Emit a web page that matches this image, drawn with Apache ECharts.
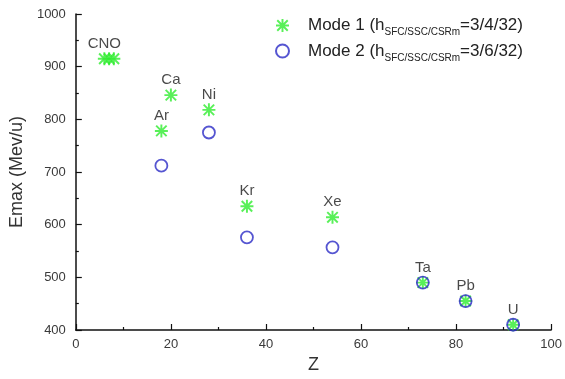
<!DOCTYPE html>
<html>
<head>
<meta charset="utf-8">
<script src="https://cdn.jsdelivr.net/npm/echarts@6/dist/echarts.min.js"></script>
<style>
  html, body { margin: 0; padding: 0; background: #fff; }
  #main { width: 565px; height: 379px; }
</style>
</head>
<body>
<div id="main"></div>
<script>
// Mode 1 (asterisks)
var zMode1 = [6, 7, 8, 18, 20, 28, 36, 54, 73, 82, 92];
var eMode1 = [915, 915, 915, 778, 846, 818, 635, 614, 490, 455, 410];
var ionNames = ['CNO', '', '', 'Ar', 'Ca', 'Ni', 'Kr', 'Xe', 'Ta', 'Pb', 'U'];
// Mode 2 (circles)
var zMode2 = [18, 28, 36, 54, 73, 82, 92];
var eMode2 = [712, 775, 576, 557, 490, 455, 410];

var xTicks = [0, 20, 40, 60, 80, 100];
var yTicks = [400, 500, 600, 700, 800, 900, 1000];

// asterisk made of four bars
var star = 'path://M0 8.5L20 8.5L20 11.5L0 11.5Z M8.5 0L11.5 0L11.5 20L8.5 20Z ' +
  'M0.9 3L3 0.9L19.1 17L17 19.1Z M17 0.9L19.1 3L3 19.1L0.9 17Z';

var green = '#30ec30';
var blue = '#2a2ac6';
var font = 'Liberation Sans';

function pairs(xs, ys) {
  return xs.map(function (x, i) { return [x, ys[i]]; });
}

var d1 = pairs(zMode1, eMode1).map(function (p, i) {
  return { value: p, label: { show: ionNames[i] !== '', formatter: ionNames[i] } };
});

var legendRich = {
  g: { width: 14 },
  a: { fontSize: 17, fontFamily: font, color: '#222', lineHeight: 24 },
  s: { fontSize: 10, fontFamily: font, color: '#222', lineHeight: 10, verticalAlign: 'bottom' }
};

var chart = echarts.init(document.getElementById('main'));
chart.setOption({
  animation: false,
  backgroundColor: '#fff',
  grid: { left: 72, right: 12, top: 14, bottom: 42 },
  legend: {
    orient: 'vertical',
    left: 275,
    top: 17,
    padding: 0,
    itemGap: 5,
    itemWidth: 13,
    itemHeight: 13,
    data: ['Mode 1', 'Mode 2'],
    formatter: function (name) {
      var v = name === 'Mode 1' ? '3/4/32' : '3/6/32';
      return '{g|}{a|' + name + ' (h}{s|SFC/SSC/CSRm}{a|=' + v + ')}';
    },
    textStyle: { rich: legendRich }
  },
  xAxis: {
    type: 'value',
    min: xTicks[0],
    max: xTicks[xTicks.length - 1],
    interval: 20,
    name: 'Z',
    nameLocation: 'middle',
    nameGap: 26,
    nameTextStyle: { fontSize: 18, fontFamily: font, color: '#333' },
    splitLine: { show: false },
    axisLine: { lineStyle: { color: '#111', width: 1.5 } },
    axisTick: { show: true, inside: true, length: 6, lineStyle: { color: '#111', width: 1.2 } },
    minorTick: { show: true, splitNumber: 2, length: 3, lineStyle: { color: '#111', width: 1.2 } },
    axisLabel: { margin: 8, fontSize: 13, fontFamily: font, color: '#3a3a3a' }
  },
  yAxis: {
    type: 'value',
    min: yTicks[0],
    max: yTicks[yTicks.length - 1],
    interval: 100,
    name: 'Emax (Mev/u)',
    nameLocation: 'middle',
    nameGap: 47,
    nameTextStyle: { fontSize: 18, fontFamily: font, color: '#333' },
    splitLine: { show: false },
    axisLine: { show: true, lineStyle: { color: '#111', width: 1.5 } },
    axisTick: { show: true, inside: true, length: 6, lineStyle: { color: '#111', width: 1.2 } },
    minorTick: { show: true, splitNumber: 2, length: 3, lineStyle: { color: '#111', width: 1.2 } },
    axisLabel: {
      margin: 10, fontSize: 13, fontFamily: font, color: '#3a3a3a',
      formatter: function (v) { return String(v); }
    }
  },
  series: [
    {
      name: 'Mode 1',
      type: 'scatter',
      symbol: star,
      symbolSize: 13,
      itemStyle: { color: green },
      label: {
        position: 'top',
        distance: 1,
        fontSize: 15,
        fontFamily: font,
        color: '#1a1a1a'
      },
      data: d1
    },
    {
      name: 'Mode 2',
      type: 'scatter',
      symbol: 'circle',
      symbolSize: 12,
      itemStyle: { color: 'rgba(0,0,0,0)', borderColor: blue, borderWidth: 1.8 },
      data: pairs(zMode2, eMode2)
    }
  ]
});
</script>
</body>
</html>
